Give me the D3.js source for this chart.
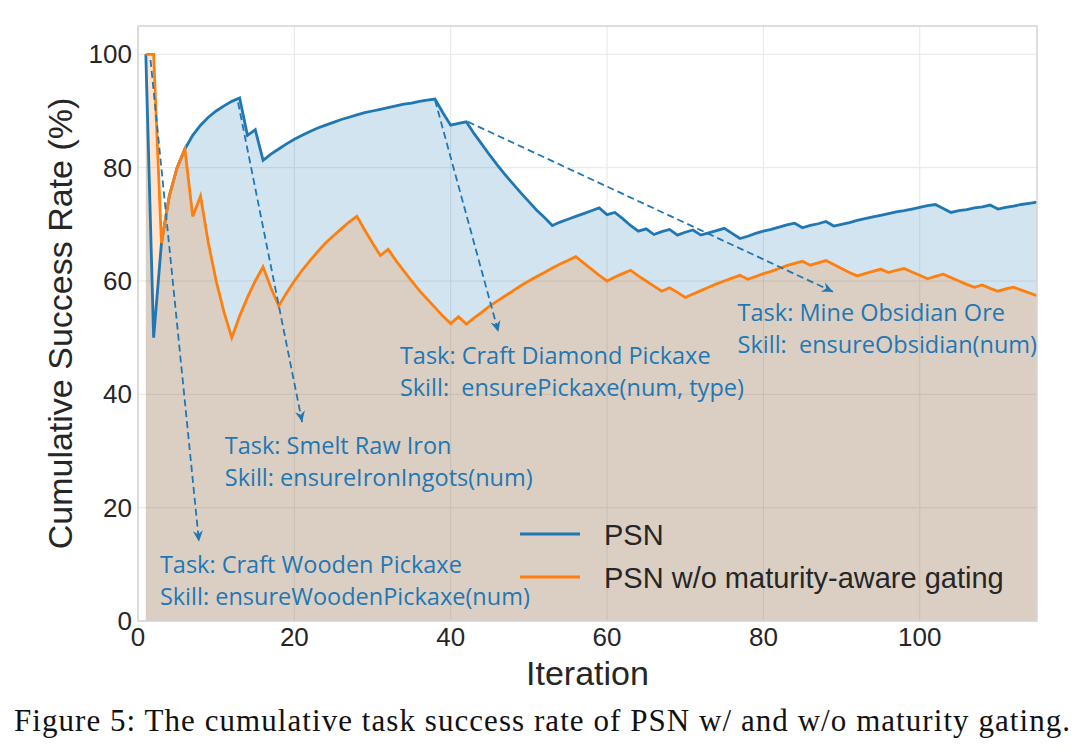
<!DOCTYPE html>
<html>
<head>
<meta charset="utf-8">
<script src="https://cdn.jsdelivr.net/npm/d3@7"></script>
<style>
body { margin: 0; background: #fff; }
svg { display: block; font-family: "Liberation Sans", Arial, sans-serif; }
</style>
</head>
<body>
<svg id="chart"></svg>
<script>
var width = 1084;
var height = 754;

// cumulative success rate (%) per iteration
var psn = [100,50,66.7,75,80,83.3,85.7,87.5,88.9,90,
	90.9,91.7,92.3,85.7,86.7,81.3,82.4,83.3,84.2,85,
	85.7,86.4,87,87.5,88,88.5,88.9,89.3,89.7,90,
	90.3,90.6,90.9,91.2,91.4,91.7,91.9,92.1,89.7,87.5,
	87.8,88.1,86,84.1,82.2,80.4,78.7,77.1,75.5,74,
	72.5,71.2,69.8,70.4,70.9,71.4,71.9,72.4,72.9,71.7,
	72.1,71,69.8,68.8,69.2,68.2,68.7,69.1,68.1,68.6,
	69,68.1,68.5,68.9,69.3,68.4,67.5,67.9,68.4,68.8,
	69.1,69.5,69.9,70.2,69.4,69.8,70.1,70.5,69.7,70,
	70.3,70.7,71,71.3,71.6,71.9,72.2,72.4,72.7,73,
	73.3,73.5,72.8,72.1,72.4,72.6,72.9,73.1,73.4,72.7,
	73,73.2,73.5,73.7,73.9];

var psnNoGating = [100,100,66.7,75,80,83.3,71.4,75,66.7,60,
	54.5,50,53.8,57.1,60,62.5,58.8,55.6,57.9,60,
	61.9,63.6,65.2,66.7,68,69.2,70.4,71.4,69,66.7,
	64.5,65.6,63.6,61.8,60,58.3,56.8,55.3,53.8,52.5,
	53.7,52.4,53.5,54.5,55.6,56.5,57.4,58.3,59.2,60,
	60.8,61.5,62.3,63,63.6,64.3,63.2,62.1,61,60,
	60.7,61.3,61.9,60.9,60,59.1,58.2,58.8,58,57.1,
	57.7,58.3,58.9,59.5,60,60.5,61,60.3,60.8,61.3,
	61.7,62.2,62.7,63.1,63.5,62.8,63.2,63.6,62.9,62.2,
	61.5,60.9,61.3,61.7,62.1,61.5,61.9,62.2,61.6,61,
	60.4,60.8,61.2,60.6,60,59.4,58.9,59.3,58.7,58.2,
	58.6,58.9,58.4,57.9,57.4];

var seriesNames = ["PSN", "PSN w/o maturity-aware gating"];
var xTicks = [0, 20, 40, 60, 80, 100];
var yTicks = [0, 20, 40, 60, 80, 100];

// annotations: task / skill text, arrow start (on the curve) and arrow tip
var annoTask = ["Task: Craft Wooden Pickaxe", "Task: Smelt Raw Iron", "Task: Craft Diamond Pickaxe", "Task: Mine Obsidian Ore"];
var annoSkill = ["Skill: ensureWoodenPickaxe(num)", "Skill: ensureIronIngots(num)", "Skill:  ensurePickaxe(num, type)", "Skill:  ensureObsidian(num)"];
var annoText = [[2.8, 8.5], [11.1, 29.5], [33.5, 45.4], [76.7, 53.0]];
var arrowFrom = [[1.6, 99], [12.8, 91.5], [38, 91.9], [42.2, 88.1]];
var arrowTo = [[7.8, 14], [21, 35.1], [46.1, 51], [88.9, 58.1]];

var caption = "Figure 5: The cumulative task success rate of PSN w/ and w/o maturity gating.";

var blue = "#1f77b4";
var orange = "#ff7f0e";
var ink = "#262626";

var plotLeft = 138, plotRight = 1037, plotTop = 26, plotBottom = 621;

var x = d3.scaleLinear().domain([0, 115]).range([plotLeft, plotRight]);
var y = d3.scaleLinear().domain([0, 105]).range([plotBottom, plotTop]);

var svg = d3.select("#chart")
	.attr("width", width)
	.attr("height", height);

svg.append("defs").append("marker")
	.attr("id", "head")
	.attr("viewBox", "-12 -6 14 12")
	.attr("refX", 0)
	.attr("refY", 0)
	.attr("markerWidth", 14)
	.attr("markerHeight", 12)
	.attr("markerUnits", "userSpaceOnUse")
	.attr("orient", "auto")
  .append("path")
	.attr("d", "M0,0L-11,-5L-7.5,0L-11,5Z")
	.attr("fill", blue);

// grid
svg.append("g").selectAll("line")
	.data(xTicks)
  .enter().append("line")
	.attr("x1", function(d){ return x(d); })
	.attr("x2", function(d){ return x(d); })
	.attr("y1", plotTop)
	.attr("y2", plotBottom)
	.attr("stroke", "#e6e6e6")
	.attr("stroke-width", 1);
svg.append("g").selectAll("line")
	.data(yTicks)
  .enter().append("line")
	.attr("x1", plotLeft)
	.attr("x2", plotRight)
	.attr("y1", function(d){ return y(d); })
	.attr("y2", function(d){ return y(d); })
	.attr("stroke", "#e6e6e6")
	.attr("stroke-width", 1);

var series = [psn, psnNoGating];
var colors = [blue, orange];

var area = d3.area()
	.x(function(d, i){ return x(i + 1); })
	.y0(y(0))
	.y1(function(d){ return y(d); });
var line = d3.line()
	.x(function(d, i){ return x(i + 1); })
	.y(function(d){ return y(d); });

svg.append("g").selectAll("path")
	.data(series)
  .enter().append("path")
	.attr("d", area)
	.attr("fill", function(d, i){ return colors[i]; })
	.attr("fill-opacity", 0.2)
	.attr("stroke", "none");

svg.append("g").selectAll("path")
	.data(series)
  .enter().append("path")
	.attr("d", line)
	.attr("fill", "none")
	.attr("stroke", function(d, i){ return colors[i]; })
	.attr("stroke-width", 2.8)
	.attr("stroke-linejoin", "miter");

// frame
svg.append("rect")
	.attr("x", plotLeft)
	.attr("y", plotTop)
	.attr("width", plotRight - plotLeft)
	.attr("height", plotBottom - plotTop)
	.attr("fill", "none")
	.attr("stroke", "#d4d4d4")
	.attr("stroke-width", 1.5);

// tick labels
svg.append("g").selectAll("text")
	.data(xTicks)
  .enter().append("text")
	.attr("x", function(d){ return x(d); })
	.attr("y", 646)
	.attr("text-anchor", "middle")
	.attr("font-size", 26)
	.attr("fill", ink)
	.text(function(d){ return d; });
svg.append("g").selectAll("text")
	.data(yTicks)
  .enter().append("text")
	.attr("x", 132)
	.attr("y", function(d){ return y(d) + 9; })
	.attr("text-anchor", "end")
	.attr("font-size", 26)
	.attr("fill", ink)
	.text(function(d){ return d; });

svg.append("text")
	.attr("x", (plotLeft + plotRight) / 2)
	.attr("y", 685)
	.attr("text-anchor", "middle")
	.attr("font-size", 34)
	.attr("fill", ink)
	.text("Iteration");
svg.append("text")
	.attr("transform", "translate(72," + ((plotTop + plotBottom) / 2) + ") rotate(-90)")
	.attr("text-anchor", "middle")
	.attr("font-size", 34)
	.attr("fill", ink)
	.text("Cumulative Success Rate (%)");

// annotations
svg.append("g").selectAll("line")
	.data(arrowFrom)
  .enter().append("line")
	.attr("x1", function(d){ return x(d[0]); })
	.attr("y1", function(d){ return y(d[1]); })
	.attr("x2", function(d, i){ return x(arrowTo[i][0]); })
	.attr("y2", function(d, i){ return y(arrowTo[i][1]); })
	.attr("stroke", blue)
	.attr("stroke-width", 1.8)
	.attr("stroke-dasharray", "7,4")
	.attr("marker-end", "url(#head)");

var notes = svg.append("g").selectAll("text")
	.data(annoText)
  .enter().append("text")
	.attr("x", function(d){ return x(d[0]); })
	.attr("y", function(d){ return y(d[1]); })
	.style("font-family", "'Open Sans', sans-serif")
	.attr("font-size", 23.5)
	.attr("fill", blue)
	.style("white-space", "pre");
notes.append("tspan")
	.text(function(d, i){ return annoTask[i]; });
notes.append("tspan")
	.attr("x", function(d){ return x(d[0]); })
	.attr("dy", 32)
	.text(function(d, i){ return annoSkill[i]; });

// legend
var legend = svg.append("g").selectAll("g")
	.data(seriesNames)
  .enter().append("g")
	.attr("transform", function(d, i){ return "translate(520," + (534 + i * 43) + ")"; });
legend.append("line")
	.attr("x1", 0)
	.attr("x2", 60)
	.attr("stroke", function(d, i){ return colors[i]; })
	.attr("stroke-width", 2.8);
legend.append("text")
	.attr("x", 84)
	.attr("y", 10.5)
	.attr("font-size", 29)
	.attr("fill", ink)
	.text(function(d){ return d; });

svg.append("text")
	.attr("x", width / 2)
	.attr("y", 731)
	.attr("text-anchor", "middle")
	.style("font-family", "'Liberation Serif', serif")
	.attr("font-size", 31)
	.attr("textLength", 1056)
	.attr("lengthAdjust", "spacing")
	.attr("fill", "#111")
	.text(caption);
</script>
</body>
</html>
